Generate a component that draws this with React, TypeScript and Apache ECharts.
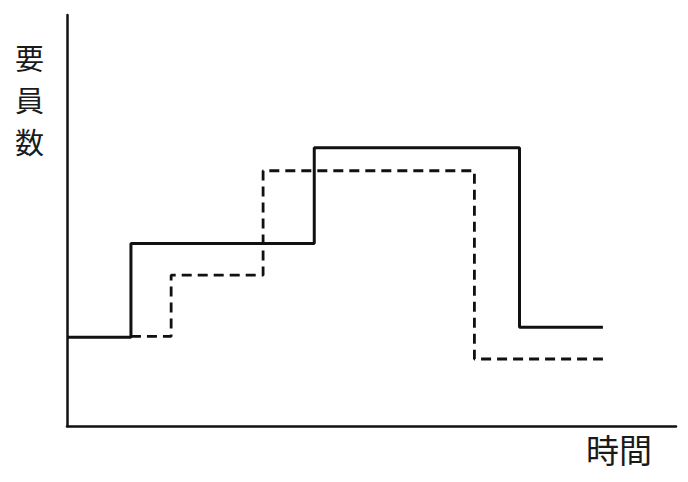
import { useEffect, useRef } from "react";
import * as echarts from "echarts";

// step vertices, time in 0..100, staff count in 0..100 (no units on the chart)
const solidTimes = [0, 10.5, 40.6, 74.3, 88];
const solidStaff = [21.6, 44.4, 67.7, 24.0, 24.0];

const dashedTimes = [10.5, 17.1, 32.2, 66.9, 88];
const dashedStaff = [21.8, 36.7, 62.1, 16.3, 16.3];

const yAxisTitle = ["要", "員", "数"];
const xAxisTitle = "時間";

const FONT = "'Noto Sans CJK JP', 'Noto Sans', sans-serif";

export default function App() {
  const containerRef = useRef<HTMLDivElement | null>(null);

  useEffect(() => {
    if (!containerRef.current) {
      return;
    }

    const chart = echarts.init(containerRef.current, undefined, { renderer: "svg" });

    // vertical y-axis title, one character per text element
    const yTitleChars = yAxisTitle.map((ch, i) => ({
      type: "text" as const,
      left: 15,
      top: 42 + i * 42,
      style: {
        text: ch,
        font: `29px ${FONT}`,
        fill: "#1a1a1a",
      },
    }));

    const option: echarts.EChartsOption = {
      animation: false,
      backgroundColor: "#ffffff",
      grid: {
        left: 67,
        top: 15,
        width: 609,
        height: 411,
      },
      xAxis: {
        type: "value",
        min: 0,
        max: 100,
        axisLine: { lineStyle: { color: "#111111", width: 2.5 } },
        axisTick: { show: false },
        axisLabel: { show: false },
        splitLine: { show: false },
      },
      yAxis: {
        type: "value",
        min: 0,
        max: 100,
        axisLine: { show: true, lineStyle: { color: "#111111", width: 2.5 } },
        axisTick: { show: false },
        axisLabel: { show: false },
        splitLine: { show: false },
      },
      graphic: [
        ...yTitleChars,
        {
          type: "text",
          left: 586,
          top: 432,
          style: {
            text: xAxisTitle,
            font: `33px ${FONT}`,
            fill: "#1a1a1a",
          },
        },
      ],
      series: [
        {
          type: "line",
          step: "end",
          symbol: "none",
          data: solidTimes.map((t, i) => [t, solidStaff[i]]),
          lineStyle: { color: "#111111", width: 3 },
        },
        {
          type: "line",
          step: "end",
          symbol: "none",
          data: dashedTimes.map((t, i) => [t, dashedStaff[i]]),
          lineStyle: { color: "#111111", width: 2.8, type: [10, 6] },
        },
      ],
    };

    chart.setOption(option);

    return () => {
      chart.dispose();
    };
  }, []);

  return (
    <div
      ref={containerRef}
      style={{ position: "fixed", left: 0, top: 0, width: 688, height: 482 }}
    />
  );
}
